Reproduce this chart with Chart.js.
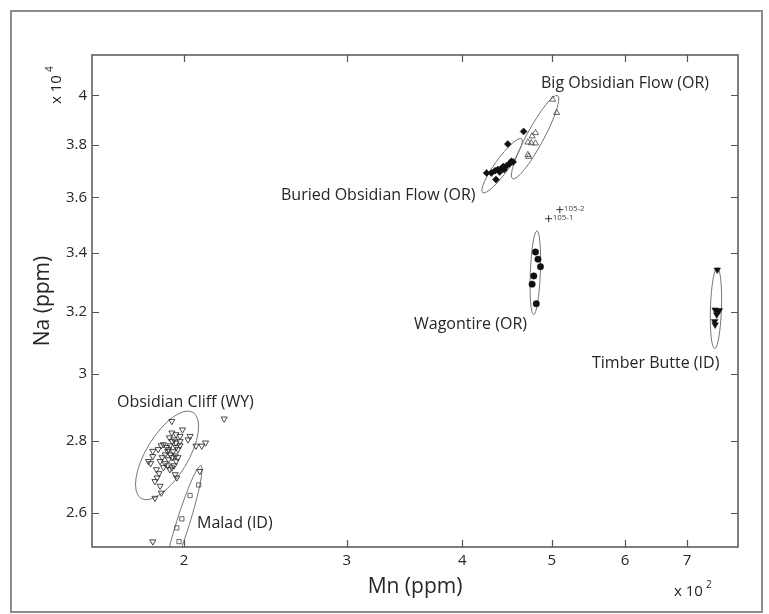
<!DOCTYPE html>
<html>
<head>
<meta charset="utf-8">
<script src="https://cdn.jsdelivr.net/npm/chart.js@4/dist/chart.umd.min.js"></script>
<style>
  body { margin: 0; background: #fff; }
  canvas { display: block; }
</style>
</head>
<body>
<canvas id="naMnChart" width="769" height="614"></canvas>
<script>
// tick values (ppm)
const xTicks = [200, 300, 400, 500, 600, 700];
const yTicks = [26000, 28000, 30000, 32000, 34000, 36000, 38000, 40000];

// Obsidian Cliff (WY)
const cliffMn = [194, 221, 194, 196, 198, 203, 202, 198, 196, 206, 211, 185, 185, 183, 184, 194, 193, 192, 187, 186,
                 189, 186, 185, 208, 190, 191.5, 192.4, 193.2, 194.1, 195.1, 192, 190.8, 193.2, 194.6, 196.1, 189.4, 192.4, 194.1, 195.6, 188.4,
                 190.8, 196.1, 197, 195.1, 187.5, 188.9, 192.8, 197, 198, 190, 186.7, 187.9, 199.2, 195.6, 196.4, 188.4, 209];
const cliffNa = [28580, 28650, 28240, 28190, 28140, 28140, 28040, 27990, 27950, 27860, 27950, 27710, 27560, 27420, 27360, 27240, 27190, 27300, 26960, 26860,
                 26540, 26400, 25240, 27140, 27900, 27820, 27760, 27870, 27990, 28040, 27700, 27610, 27610, 27700, 27820, 27530, 27470, 27530, 27580, 27420,
                 27360, 27420, 27530, 27300, 27760, 27870, 28100, 27760, 27870, 27250, 27190, 27080, 28330, 27050, 26960, 26730, 27860];

// Malad (ID)
const maladMn = [207.4, 203, 198.9, 196.4, 197.5];
const maladNa = [26760, 26470, 25840, 25600, 25240];

// Buried Obsidian Flow (OR)
const buriedMn = [466, 448, 454, 450, 447, 443, 441, 437, 434, 430, 425, 435, 439, 444, 452];
const buriedNa = [38540, 38040, 37340, 37270, 37210, 37170, 37090, 37050, 37010, 36920, 36920, 36670, 36960, 37050, 37370];

// Big Obsidian Flow (OR)
const bigMn = [501, 506, 480, 476, 471, 475, 480, 471, 472];
const bigNa = [39830, 39290, 38480, 38350, 38110, 38080, 38070, 37620, 37550];

// Wagontire (OR)
const wagMn = [480, 483, 486, 478, 476, 481];
const wagNa = [34030, 33780, 33520, 33200, 32920, 32260];

// Timber Butte (ID)
const timberMn = [755, 751, 756, 759, 754, 750, 751];
const timberNa = [33410, 32060, 32010, 32040, 31900, 31680, 31570];

// samples 105-1, 105-2
const sampleNames = ['105-2', '105-1'];
const sampleMn = [510, 496];
const sampleNa = [35550, 35220];

// confidence ellipses: major axis end points [Mn1, Na1, Mn2, Na2]
const ellipseAxes = [
  [204.5, 28840, 179.7, 26390],   // Obsidian Cliff
  [208.6, 27300, 190.8, 24260],   // Malad
  [420.8, 36180, 463.6, 38250],   // Buried
  [453.4, 36700, 507.2, 39990],   // Big Obsidian
  [481.8, 34780, 477.8, 31900],   // Wagontire
  [755, 33480, 750, 30800]        // Timber Butte
];
const ellipseHalfWidth = [21, 6.5, 7, 8.5, 5, 5.5];

const pts = (xs, ys) => xs.map((x, i) => ({x: x, y: ys[i]}));

const labelFont = "'Open Sans', sans-serif";
const ink = '#262626';
Chart.defaults.font.family = labelFont;
Chart.defaults.color = ink;

const frameLayer = {
  id: 'frameLayer',
  beforeDraw(chart) {
    const c = chart.ctx;
    c.save();
    c.fillStyle = '#fff';
    c.fillRect(0, 0, chart.width, chart.height);
    c.strokeStyle = '#8c8c8c';
    c.lineWidth = 2;
    c.strokeRect(11, 11, 751, 601);
    c.restore();
  },
  beforeDatasetsDraw(chart) {
    const c = chart.ctx, a = chart.chartArea;
    const xs = chart.scales.x, ys = chart.scales.y;
    c.save();
    c.beginPath();
    c.rect(a.left, a.top, a.right - a.left, a.bottom - a.top);
    c.clip();
    c.strokeStyle = '#777';
    c.lineWidth = 1;
    ellipseAxes.forEach((e, i) => {
      const x1 = xs.getPixelForValue(e[0]), y1 = ys.getPixelForValue(e[1]);
      const x2 = xs.getPixelForValue(e[2]), y2 = ys.getPixelForValue(e[3]);
      const ang = Math.atan2(y2 - y1, x2 - x1);
      const r = Math.hypot(x2 - x1, y2 - y1) / 2;
      c.beginPath();
      c.ellipse((x1 + x2) / 2, (y1 + y2) / 2, r, ellipseHalfWidth[i], ang, 0, Math.PI * 2);
      c.stroke();
    });
    c.restore();
  },
  afterDatasetsDraw(chart) {
    const c = chart.ctx, a = chart.chartArea;
    const xs = chart.scales.x, ys = chart.scales.y;
    c.save();
    c.strokeStyle = '#555';
    c.lineWidth = 1.5;
    c.strokeRect(a.left, a.top, a.right - a.left, a.bottom - a.top);
    c.lineWidth = 1.2;
    c.beginPath();
    xTicks.forEach(v => {
      const px = Math.round(xs.getPixelForValue(v)) + 0.5;
      c.moveTo(px, a.bottom); c.lineTo(px, a.bottom - 7);
      c.moveTo(px, a.top); c.lineTo(px, a.top + 7);
    });
    yTicks.forEach(v => {
      const py = Math.round(ys.getPixelForValue(v)) + 0.5;
      c.moveTo(a.left, py); c.lineTo(a.left + 7, py);
      c.moveTo(a.right, py); c.lineTo(a.right - 7, py);
    });
    c.stroke();

    // sample names next to the crosses
    c.fillStyle = '#444';
    c.font = "8px " + labelFont;
    c.textBaseline = 'middle';
    chart.getDatasetMeta(6).data.forEach((p, i) => {
      c.fillText(sampleNames[i], p.x + 4, p.y - 1);
    });

    // group names
    c.fillStyle = ink;
    c.font = "16px " + labelFont;
    [
      ['Big Obsidian Flow (OR)', 541, 83],
      ['Buried Obsidian Flow (OR)', 281, 195],
      ['Wagontire (OR)', 414, 324],
      ['Timber Butte (ID)', 592, 363],
      ['Obsidian Cliff (WY)', 117, 402],
      ['Malad (ID)', 197, 523]
    ].forEach(t => c.fillText(t[0], t[1], t[2]));

    // exponent notes
    c.font = "15px " + labelFont;
    c.textAlign = 'left';
    c.fillText('x 10', 674, 592);
    c.font = "10px " + labelFont;
    c.fillText('2', 706, 585);
    c.translate(57, 104);
    c.rotate(-Math.PI / 2);
    c.font = "15px " + labelFont;
    c.fillText('x 10', 0, 0);
    c.font = "10px " + labelFont;
    c.fillText('4', 32, -7);
    c.restore();
  }
};

const hollow = 'rgba(0,0,0,0)';

new Chart(document.getElementById('naMnChart'), {
  type: 'scatter',
  data: {
    datasets: [
      { label: 'Obsidian Cliff (WY)', data: pts(cliffMn, cliffNa), pointStyle: 'triangle', rotation: 180,
        pointRadius: 3.5, borderColor: '#333', borderWidth: 0.9, backgroundColor: hollow },
      { label: 'Malad (ID)', data: pts(maladMn, maladNa), pointStyle: 'rect',
        pointRadius: 3, borderColor: '#444', borderWidth: 0.8, backgroundColor: hollow },
      { label: 'Buried Obsidian Flow (OR)', data: pts(buriedMn, buriedNa), pointStyle: 'rectRot',
        pointRadius: 3.5, borderColor: '#111', borderWidth: 0.5, backgroundColor: '#111' },
      { label: 'Big Obsidian Flow (OR)', data: pts(bigMn, bigNa), pointStyle: 'triangle',
        pointRadius: 3.5, borderColor: '#444', borderWidth: 0.8, backgroundColor: hollow },
      { label: 'Wagontire (OR)', data: pts(wagMn, wagNa), pointStyle: 'circle',
        pointRadius: 3.2, borderColor: '#111', borderWidth: 0.5, backgroundColor: '#111' },
      { label: 'Timber Butte (ID)', data: pts(timberMn, timberNa), pointStyle: 'triangle', rotation: 180,
        pointRadius: 3.8, borderColor: '#111', borderWidth: 0.5, backgroundColor: '#111' },
      { label: '105', data: pts(sampleMn, sampleNa), pointStyle: 'cross',
        pointRadius: 3.5, borderColor: '#333', borderWidth: 1, backgroundColor: hollow }
    ]
  },
  options: {
    responsive: false,
    animation: false,
    layout: { padding: { left: 0, top: 55, right: 31, bottom: 0 } },
    plugins: { legend: { display: false }, tooltip: { enabled: false } },
    scales: {
      x: {
        type: 'logarithmic', min: 159, max: 795, position: 'bottom',
        afterBuildTicks: s => { s.ticks = xTicks.map(v => ({ value: v })); },
        afterFit: s => { s.height = 67; },
        grid: { display: false, drawTicks: false },
        border: { display: false },
        ticks: { callback: v => v / 100, font: { size: 15 }, color: ink, padding: 5, autoSkip: false, maxRotation: 0 },
        title: { display: true, text: 'Mn (ppm)', font: { size: 21 }, color: ink, padding: { top: 0, bottom: 14 } }
      },
      y: {
        type: 'logarithmic', min: 25100, max: 41700, position: 'left',
        afterBuildTicks: s => { s.ticks = yTicks.map(v => ({ value: v })); },
        afterFit: s => { s.width = 92; },
        grid: { display: false, drawTicks: false },
        border: { display: false },
        ticks: { callback: v => v / 10000, font: { size: 15 }, color: ink, padding: 5, autoSkip: false },
        title: { display: true, text: 'Na (ppm)', font: { size: 21 }, color: ink, padding: { top: 30, bottom: 0 } }
      }
    }
  },
  plugins: [frameLayer]
});
</script>
</body>
</html>
